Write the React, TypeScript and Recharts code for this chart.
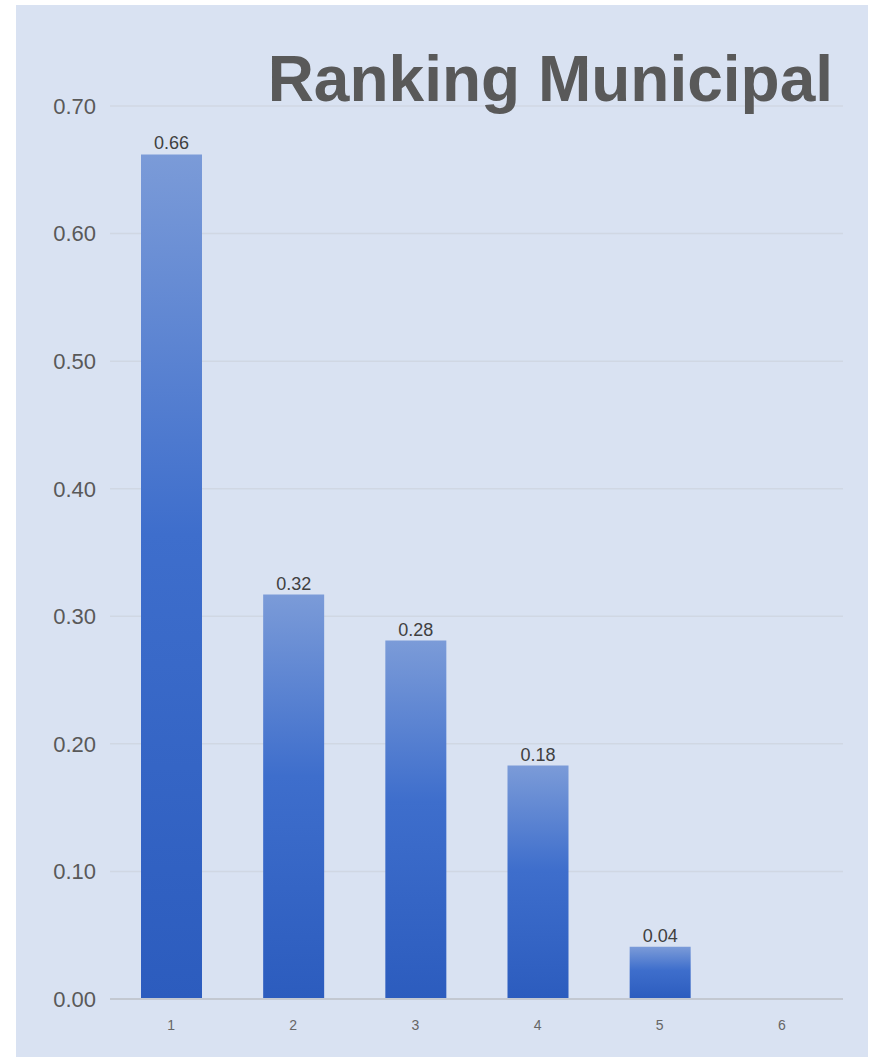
import { BarChart, Bar, XAxis, YAxis, CartesianGrid, LabelList } from 'recharts'

const categories = ['1', '2', '3', '4', '5', '6']
const values = [0.662, 0.317, 0.281, 0.183, 0.041, null]
const yTicks = [0, 0.1, 0.2, 0.3, 0.4, 0.5, 0.6, 0.7]
const title = 'Ranking Municipal'

const data = categories.map((name, i) => ({ name, value: values[i] }))

export default function App() {
	return (
		<div style={{ position: 'absolute', left: 0, top: 0, width: 872, height: 1057, background: '#ffffff', overflow: 'hidden' }}>
			<div style={{ position: 'absolute', left: 16, top: 5, width: 852, height: 1052, background: '#d9e2f2' }}>
				<BarChart width={852} height={1052} data={data} margin={{ top: 101, right: 25, bottom: 0, left: 0 }}>
					<defs>
						<linearGradient id="barFill" x1="0" y1="0" x2="0" y2="1">
							<stop offset="0%" stopColor="#7b9bd8" />
							<stop offset="45%" stopColor="#3e6ecc" />
							<stop offset="100%" stopColor="#2c5cbe" />
						</linearGradient>
					</defs>
					<CartesianGrid vertical={false} stroke="#d0d7e3" strokeWidth={1.5} />
					<XAxis
						dataKey="name"
						height={58}
						tickLine={false}
						axisLine={{ stroke: '#c3c8d1', strokeWidth: 2 }}
						tick={{ fill: '#666666', fontSize: 14, fontFamily: 'Arial, Liberation Sans, sans-serif' }}
						tickMargin={15}
					/>
					<YAxis
						width={94}
						domain={[0, 0.7]}
						ticks={yTicks}
						interval={0}
						axisLine={false}
						tickLine={false}
						tickMargin={8}
						tickFormatter={(v: number) => v.toFixed(2)}
						tick={{ fill: '#595959', fontSize: 22, fontFamily: 'Arial, Liberation Sans, sans-serif' }}
					/>
					<Bar dataKey="value" fill="url(#barFill)" barSize={61} isAnimationActive={false}>
						<LabelList
							dataKey="value"
							position="top"
							offset={5}
							fill="#404040"
							fontSize={18}
							fontFamily="Arial, Liberation Sans, sans-serif"
							formatter={(v: any) => (v == null ? '' : Number(v).toFixed(2))}
						/>
					</Bar>
				</BarChart>
				<svg width={852} height={120} style={{ position: 'absolute', left: 0, top: 0 }}>
					<text x={817} y={96} textAnchor="end" fill="#595959" fontSize={64} fontWeight="bold" fontFamily="Arial, Liberation Sans, sans-serif">
						{title}
					</text>
				</svg>
			</div>
		</div>
	)
}
